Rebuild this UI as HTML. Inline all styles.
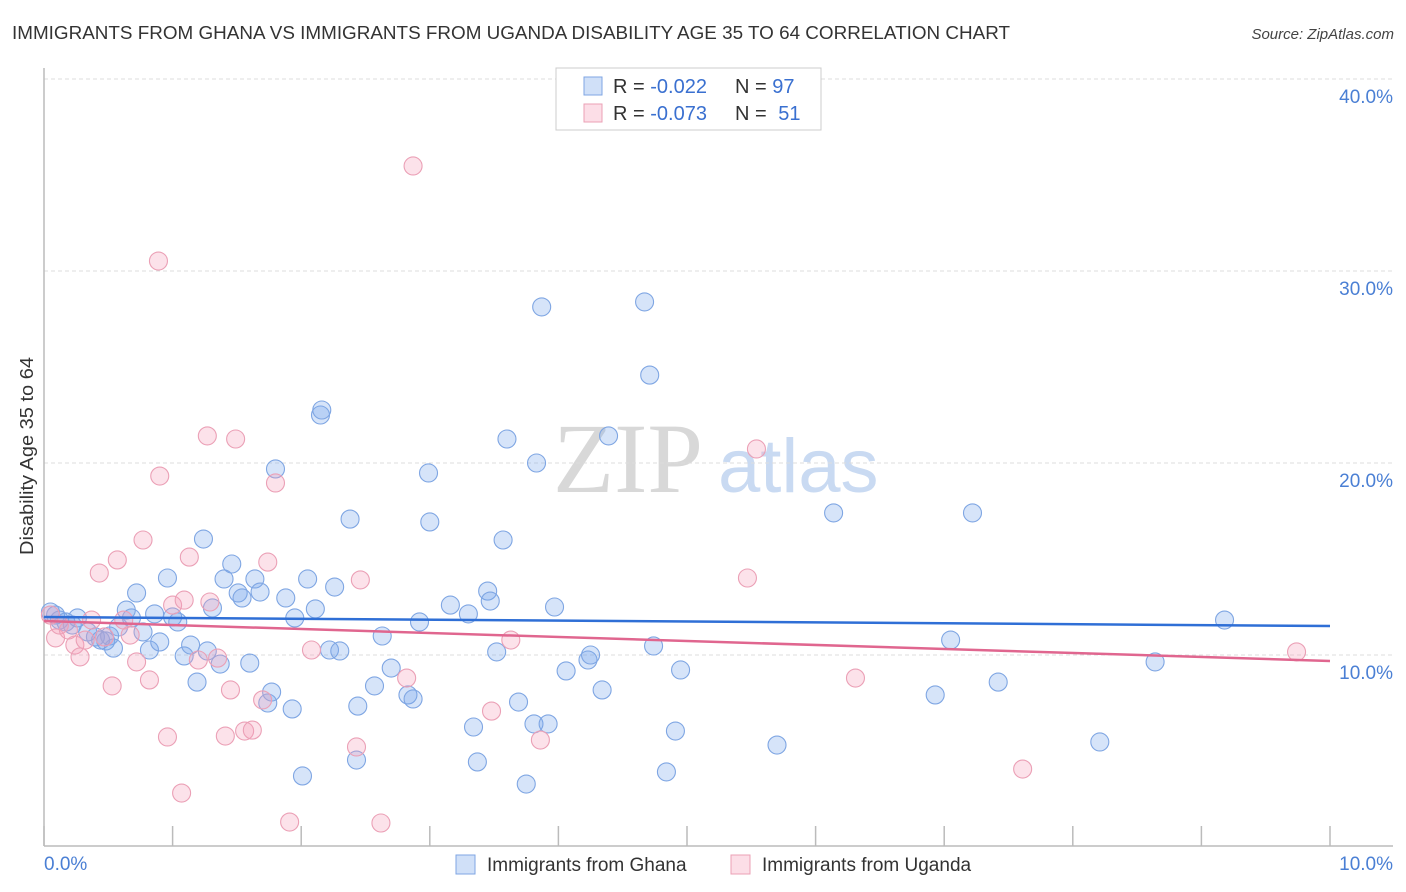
<!DOCTYPE html>
<html><head><meta charset="utf-8"><style>
body{margin:0;background:#fff;font-family:"Liberation Sans",sans-serif}
svg{display:block}
</style></head><body>
<svg id="chart" width="1406" height="892" xmlns="http://www.w3.org/2000/svg">
<text x="12" y="39" font-size="18" fill="#333" textLength="998" lengthAdjust="spacingAndGlyphs">IMMIGRANTS FROM GHANA VS IMMIGRANTS FROM UGANDA DISABILITY AGE 35 TO 64 CORRELATION CHART</text>
<text x="1394" y="39" font-size="15" font-style="italic" fill="#444" text-anchor="end">Source: ZipAtlas.com</text>
<g>
<text x="553" y="492" font-size="100" font-family="Liberation Serif,serif" fill="#d8d8d8">ZIP</text>
<text x="718" y="492" font-size="76" fill="#c9daf2">atlas</text>
</g>
<g id="grid"></g>
<g id="axes"></g>
<g id="pts"></g>
<g id="trends"></g>
<text x="33" y="456" font-size="18" fill="#333" text-anchor="middle" transform="rotate(-90 33 456)" textLength="198" lengthAdjust="spacingAndGlyphs">Disability Age 35 to 64</text>
<g>
<rect x="556" y="68" width="265" height="62" fill="#fff" stroke="#ccc"/>
<rect x="584" y="77" width="18" height="18" fill="rgba(120,165,235,0.35)" stroke="#7fa6e3"/>
<rect x="584" y="104" width="18" height="18" fill="rgba(245,160,185,0.35)" stroke="#eba0b6"/>
<text x="613" y="93" font-size="20" fill="#333">R = <tspan fill="#3a70d0">-0.022</tspan></text>
<text x="735" y="93" font-size="20" fill="#333">N = <tspan fill="#3a70d0">97</tspan></text>
<text x="613" y="120" font-size="20" fill="#333">R = <tspan fill="#3a70d0">-0.073</tspan></text>
<text x="735" y="120" font-size="20" fill="#333">N = <tspan fill="#3a70d0" dx="6">51</tspan></text>
</g>
<g>
<rect x="456" y="855" width="19" height="19" fill="rgba(120,165,235,0.35)" stroke="#7fa6e3"/>
<text x="487" y="871" font-size="19" fill="#333">Immigrants from Ghana</text>
<rect x="731" y="855" width="19" height="19" fill="rgba(245,160,185,0.35)" stroke="#eba0b6"/>
<text x="762" y="871" font-size="19" fill="#333">Immigrants from Uganda</text>
</g>
</svg>
<script>
const yTicks=[10,20,30,40];
const yTickLabels=["10.0%","20.0%","30.0%","40.0%"];
const xTicks=[0,1,2,3,4,5,6,7,8,9,10];
const xEndLabels=["0.0%","10.0%"];
const ghanaX=[.05,.09,.12,.17,.22,.26,.34,.40,.44,.48,.51,.54,.58,.64,.68,.72,.77,.82,.86,.90,.96,1.00,1.04,1.09,1.14,1.19,1.24,1.27,1.31,1.37,1.40,1.46,1.51,1.54,1.60,1.64,1.68,1.74,1.77,1.80,1.88,1.93,1.95,2.01,2.05,2.11,2.15,2.16,2.22,2.26,2.30,2.38,2.44,2.43,2.57,2.63,2.70,2.83,2.87,2.92,2.99,3.00,3.16,3.30,3.34,3.37,3.45,3.47,3.52,3.57,3.60,3.69,3.75,3.81,3.83,3.87,3.92,3.97,4.06,4.23,4.25,4.34,4.39,4.67,4.71,4.74,4.91,4.95,4.84,5.70,6.14,6.93,7.05,7.22,7.42,8.21,8.64,9.18];
const ghanaY=[12.24,12.08,11.82,11.72,11.56,11.93,11.20,10.94,10.78,10.73,10.99,10.36,11.46,12.34,11.93,13.23,11.20,10.26,12.14,10.68,14.01,11.98,11.72,9.95,10.52,8.59,16.04,10.21,12.45,9.53,13.96,14.74,13.23,12.97,9.58,13.96,13.28,7.50,8.07,19.69,12.97,7.19,11.93,3.70,13.96,12.40,22.50,22.76,10.26,13.54,10.21,17.08,7.34,4.53,8.39,10.99,9.32,7.92,7.71,11.72,19.48,16.93,12.60,12.14,6.25,4.43,13.33,12.81,10.16,15.99,21.25,7.55,3.28,6.41,20.00,28.13,6.41,12.50,9.17,9.74,10.00,8.18,21.41,28.39,24.58,10.47,6.04,9.22,3.91,5.31,17.40,7.92,10.78,17.40,8.59,5.47,9.64,11.82];
const ugandaX=[.05,.09,.12,.19,.24,.28,.32,.37,.43,.47,.53,.57,.62,.67,.72,.77,.82,.89,.90,.96,1.00,1.07,1.09,1.13,1.20,1.27,1.29,1.35,1.41,1.45,1.49,1.56,1.62,1.70,1.74,1.80,1.91,2.08,2.43,2.46,2.62,2.82,2.87,3.48,3.63,3.86,5.47,5.54,6.31,7.61,9.74];
const ugandaY=[12.08,10.89,11.56,11.30,10.52,9.90,10.78,11.82,14.27,10.94,8.39,14.95,11.82,11.04,9.64,15.99,8.70,30.52,19.32,5.73,12.60,2.81,12.86,15.10,9.74,21.41,12.76,9.84,5.78,8.18,21.25,6.04,6.09,7.66,14.84,18.96,1.30,10.26,5.21,13.91,1.25,8.80,35.47,7.08,10.78,5.57,14.01,20.73,8.80,4.06,10.16];
const ghanaTrend=[11.98,11.51];
const ugandaTrend=[11.77,9.69];

const NS="http://www.w3.org/2000/svg";
const X0=44,X1=1330,Y0=847,PX=19.2;
const sx=v=>X0+(X1-X0)*v/10;
const sy=v=>Y0-v*PX;
function mk(tag,attrs,parent){const e=document.createElementNS(NS,tag);for(const k in attrs)e.setAttribute(k,attrs[k]);parent.appendChild(e);return e;}
const grid=document.getElementById('grid'),axes=document.getElementById('axes'),pts=document.getElementById('pts'),tr=document.getElementById('trends');
yTicks.forEach((t,i)=>{
 const l=mk('line',{x1:X0,x2:1393,y1:sy(t),y2:sy(t),stroke:'#ddd','stroke-dasharray':'4,3'},grid);
 
 
 const tx=mk('text',{x:1393,y:sy(t)+24,'font-size':19,fill:'#4a7fd4','text-anchor':'end'},axes);
 tx.textContent=yTickLabels[i];
 
 
});
const ya=mk('line',{x1:X0,x2:X0,y1:68,y2:846,stroke:'#bbb','stroke-width':1.5},axes);


const xa=mk('line',{x1:X0,x2:1393,y1:846,y2:846,stroke:'#bbb','stroke-width':1.5},axes);


xTicks.forEach(t=>{
 const l=mk('line',{x1:sx(t),x2:sx(t),y1:826,y2:846,stroke:'#bbb','stroke-width':1.5},axes);
 
 
});
[[0,'start',44],[10,'end',1393]].forEach((d,i)=>{
 const tx=mk('text',{x:d[2],y:870,'font-size':19,fill:'#4a7fd4','text-anchor':d[1]},axes);
 tx.textContent=xEndLabels[i];
 
 
});
function series(xs,ys,fill,stroke,name){
 xs.forEach((x,i)=>{
  const c=mk('circle',{cx:sx(x),cy:sy(ys[i]),r:9,fill:fill,stroke:stroke,'stroke-width':1.1},pts);
  
  
 });
}
series(ghanaX,ghanaY,'rgba(120,165,235,0.3)','#7fa6e3','ghana');
series(ugandaX,ugandaY,'rgba(245,160,185,0.3)','#eba0b6','uganda');
const bl=mk('line',{x1:sx(0),x2:sx(10),y1:sy(ghanaTrend[0]),y2:sy(ghanaTrend[1]),stroke:'#2f6fd6','stroke-width':2.5},tr);


const pl=mk('line',{x1:sx(0),x2:sx(10),y1:sy(ugandaTrend[0]),y2:sy(ugandaTrend[1]),stroke:'#e0668f','stroke-width':2.5},tr);


</script>
</body></html>
